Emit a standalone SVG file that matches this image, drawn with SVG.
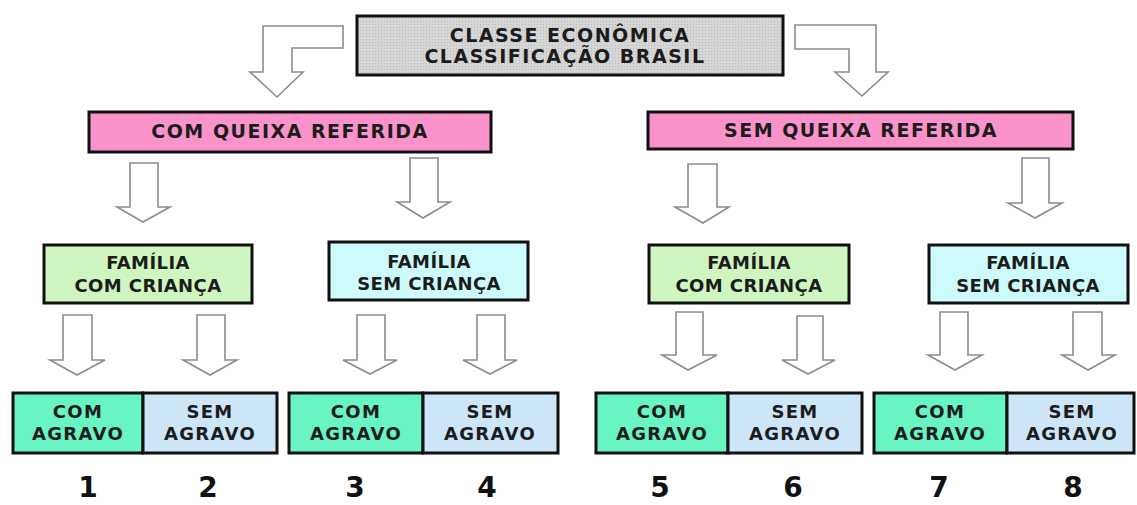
<svg xmlns="http://www.w3.org/2000/svg" width="1137" height="505" viewBox="0 0 1137 505">
<defs>
<pattern id="grid" width="3" height="3" patternUnits="userSpaceOnUse">
<rect width="3" height="3" fill="#d6d6d6"/>
<rect width="1" height="1" fill="#b8b8b8"/>
</pattern>
</defs>
<style>
.box{stroke:#111;stroke-width:3}
.arr{fill:#fff;stroke:#8c8c8c;stroke-width:1.6;stroke-linejoin:miter}
text{font-family:"DejaVu Sans","Verdana",sans-serif;font-weight:bold;fill:#1c1c1c;text-anchor:middle}
.t18{font-size:19px;letter-spacing:1.5px}
.t17{font-size:18px;letter-spacing:0.4px}
.t16{font-size:18px;letter-spacing:1.3px}
.num{font-size:28px;fill:#111}
.pink{fill:#f993c9}
.grn{fill:#cff6c1}
.cyan{fill:#cdfafa}
.cag{fill:#68f4c3}
.sag{fill:#cce5f7}
</style>
<rect width="1137" height="505" fill="#fff"/>
<g id="connectors">
<path class="arr" d="M343 26 V48 H292 V72 H303 L277 97 L250 72 H263 V26 Z"/>
<path class="arr" d="M795 25 H876 V72 H888 L862 96 L835 72 H849 V49 H795 Z"/>
<path class="arr" d="M130 163 H158 V207 H170 L143 222 L117 207 H130 Z"/>
<path class="arr" d="M410 158 H438 V202 H450 L423 218 L397 202 H410 Z"/>
<path class="arr" d="M688 164 H717 V207 H729 L703 223 L675 207 H688 Z"/>
<path class="arr" d="M1022 158 H1049 V203 H1062 L1035 218 L1008 203 H1022 Z"/>
<path class="arr" d="M63 315 H92 V360 H105 L77 375 L50 360 H63 Z"/>
<path class="arr" d="M197 315 H225 V360 H237 L210 375 L183 360 H197 Z"/>
<path class="arr" d="M357 315 H385 V360 H397 L370 374 L343 360 H357 Z"/>
<path class="arr" d="M477 315 H505 V360 H517 L490 374 L463 360 H477 Z"/>
<path class="arr" d="M676 312 H703 V355 H717 L688 370 L662 355 H676 Z"/>
<path class="arr" d="M797 316 H823 V360 H835 L808 374 L782 360 H797 Z"/>
<path class="arr" d="M940 312 H968 V355 H982 L955 370 L928 355 H940 Z"/>
<path class="arr" d="M1073 312 H1102 V355 H1115 L1088 370 L1062 355 H1073 Z"/>
</g>
<g id="classe">
<rect class="box" x="357" y="16" width="426" height="59" fill="url(#grid)"/>
<text class="t18" x="570" y="42">CLASSE ECONÔMICA</text>
<text class="t18" x="565" y="63">CLASSIFICAÇÃO BRASIL</text>
</g>
<g id="com-queixa">
<rect class="box pink" x="89" y="112" width="402" height="40"/>
<text class="t18" x="290" y="138">COM QUEIXA REFERIDA</text>
</g>
<g id="sem-queixa">
<rect class="box pink" x="648" y="112" width="425" height="37"/>
<text class="t18" x="861" y="137">SEM QUEIXA REFERIDA</text>
</g>
<g id="familia-com-1">
<rect class="box grn" x="44" y="245" width="208" height="58"/>
<text class="t17" x="148" y="269">FAMÍLIA</text>
<text class="t17" x="148" y="292">COM CRIANÇA</text>
</g>
<g id="familia-sem-1">
<rect class="box cyan" x="329" y="242" width="199" height="58"/>
<text class="t17" x="429" y="268">FAMÍLIA</text>
<text class="t17" x="429" y="290">SEM CRIANÇA</text>
</g>
<g id="familia-com-2">
<rect class="box grn" x="649" y="245" width="200" height="58"/>
<text class="t17" x="749" y="269">FAMÍLIA</text>
<text class="t17" x="749" y="292">COM CRIANÇA</text>
</g>
<g id="familia-sem-2">
<rect class="box cyan" x="929" y="245" width="199" height="58"/>
<text class="t17" x="1028" y="269">FAMÍLIA</text>
<text class="t17" x="1028" y="292">SEM CRIANÇA</text>
</g>
<g id="grupo-1">
<rect class="box cag" x="13" y="393" width="130" height="60"/>
<text class="t16" x="78" y="418">COM</text>
<text class="t16" x="78" y="440">AGRAVO</text>
</g>
<g id="grupo-2">
<rect class="box sag" x="143" y="393" width="134" height="60"/>
<text class="t16" x="210" y="418">SEM</text>
<text class="t16" x="210" y="440">AGRAVO</text>
</g>
<g id="grupo-3">
<rect class="box cag" x="289" y="393" width="134" height="60"/>
<text class="t16" x="356" y="418">COM</text>
<text class="t16" x="356" y="440">AGRAVO</text>
</g>
<g id="grupo-4">
<rect class="box sag" x="423" y="393" width="135" height="60"/>
<text class="t16" x="490" y="418">SEM</text>
<text class="t16" x="490" y="440">AGRAVO</text>
</g>
<g id="grupo-5">
<rect class="box cag" x="596" y="393" width="132" height="60"/>
<text class="t16" x="662" y="418">COM</text>
<text class="t16" x="662" y="440">AGRAVO</text>
</g>
<g id="grupo-6">
<rect class="box sag" x="728" y="393" width="134" height="60"/>
<text class="t16" x="795" y="418">SEM</text>
<text class="t16" x="795" y="440">AGRAVO</text>
</g>
<g id="grupo-7">
<rect class="box cag" x="874" y="393" width="133" height="60"/>
<text class="t16" x="940" y="418">COM</text>
<text class="t16" x="940" y="440">AGRAVO</text>
</g>
<g id="grupo-8">
<rect class="box sag" x="1007" y="393" width="127" height="60"/>
<text class="t16" x="1072" y="418">SEM</text>
<text class="t16" x="1072" y="440">AGRAVO</text>
</g>
<g id="numeros">
<text class="num" x="88" y="497">1</text>
<text class="num" x="208" y="497">2</text>
<text class="num" x="355" y="497">3</text>
<text class="num" x="487" y="497">4</text>
<text class="num" x="660" y="497">5</text>
<text class="num" x="793" y="497">6</text>
<text class="num" x="939" y="497">7</text>
<text class="num" x="1073" y="497">8</text>
</g>
</svg>
